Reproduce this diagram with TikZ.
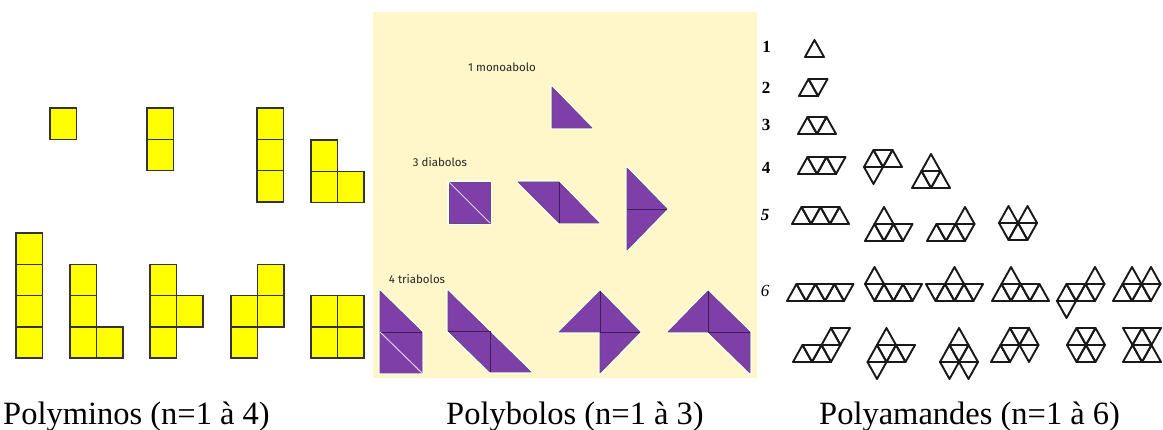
\documentclass[tikz,border=0pt]{standalone}
\usepackage{fontspec}
\setmainfont{Liberation Serif}
\newfontfamily\handfont{Fira Sans}
\definecolor{cream}{HTML}{FFF6C9}
\definecolor{bolo}{HTML}{7E3FA9}
\definecolor{bolodark}{HTML}{3E1F55}
\definecolor{ominoY}{HTML}{FFFF00}
\tikzset{
  omino/.style={fill=ominoY, draw=black!80, line width=1.4pt, line join=miter},
  amond/.style={draw=black!90, line width=1.9pt, line join=round, line cap=round},
  bolohalo/.style={draw=white, line width=3.5pt, line join=round, opacity=0.85},
  bolopiece/.style={fill=bolo, draw=bolodark!80, line width=0.7pt, line join=round},
  bolointer/.style={draw=bolodark, line width=0.8pt},
  bolodiag/.style={draw=white!75!bolo, line width=1pt},
  caption/.style={font=\fontsize{32.5}{38}\selectfont, inner sep=0pt, anchor=base west},
  bololabel/.style={font=\handfont\fontsize{11.5}{13}\selectfont, text=black!85, inner sep=0pt},
  amnum/.style={font=\fontsize{17}{19}\selectfont\bfseries, inner sep=0pt}
}
\newcommand\ycell[2]{\draw[omino] (#1,#2) rectangle ++(26.5,31.3);}
\newcommand\tup[2]{\draw[amond] (#1,#2) -- ++(19,0) -- ++(-9.5,-17) -- cycle;}
\newcommand\tdn[2]{\draw[amond] (#1,#2) -- ++(19,0) -- ++(-9.5,17) -- cycle;}
\begin{document}
\begin{tikzpicture}[x=1pt,y=-1pt]
\useasboundingbox (0,0) rectangle (1163,430);
\fill[white] (0,0) rectangle (1163,430);

% ---------------- Polyominos ----------------
\ycell{50}{108}
\ycell{147}{108}\ycell{147}{139.3}
\ycell{257}{108}\ycell{257}{139.3}\ycell{257}{170.6}
\ycell{311}{140}\ycell{311}{171.3}\ycell{337.5}{171.3}
\ycell{16}{233}\ycell{16}{264.3}\ycell{16}{295.6}\ycell{16}{326.9}
\ycell{70}{264.3}\ycell{70}{295.6}\ycell{70}{326.9}\ycell{96.5}{326.9}
\ycell{150}{264.3}\ycell{150}{295.6}\ycell{150}{326.9}\ycell{176.5}{295.6}
\ycell{231}{295.6}\ycell{231}{326.9}\ycell{257.5}{264.3}\ycell{257.5}{295.6}
\ycell{311}{295.6}\ycell{311}{326.9}\ycell{337.5}{295.6}\ycell{337.5}{326.9}

% ---------------- Polybolos ----------------
\fill[cream] (373,12) rectangle (757,378);
\node[bololabel] (lmono) at (502,67) {1 monoabolo};
\node[bololabel] (ldia) at (440,162) {3 diabolos};
\node[bololabel] (ltri) at (417,279) {4 triabolos};
\draw[bolohalo] (552,87) -- (552,128) -- (592,128) -- cycle;
\draw[bolopiece] (552,87) -- (552,128) -- (592,128) -- cycle;
\draw[bolohalo] (449,182) rectangle (490,223);
\draw[bolopiece] (449,182) rectangle (490,223);
\draw[bolodiag] (449,182) -- (490,223);
\draw[bolohalo] (518,182) -- (559,182) -- (599,223) -- (559,223) -- cycle;
\draw[bolopiece] (518,182) -- (559,182) -- (599,223) -- (559,223) -- cycle;
\draw[bolointer] (559,182) -- (559,223);
\draw[bolohalo] (627,168) -- (667,209) -- (627,250) -- cycle;
\draw[bolopiece] (627,168) -- (667,209) -- (627,250) -- cycle;
\draw[bolointer] (627,209) -- (667,209);
\draw[bolohalo] (380,291) -- (422,332) -- (422,373) -- (380,373) -- cycle;
\draw[bolopiece] (380,291) -- (422,332) -- (422,373) -- (380,373) -- cycle;
\draw[bolointer] (380,332) -- (422,332);
\draw[bolodiag] (380,332) -- (422,373);
\draw[bolohalo] (448,291) -- (531,372) -- (490,372) -- (448,331) -- cycle;
\draw[bolopiece] (448,291) -- (531,372) -- (490,372) -- (448,331) -- cycle;
\draw[bolointer] (448,331) -- (490,331) -- (490,372);
\draw[bolohalo] (559,332) -- (600,291) -- (640,332) -- (600,373) -- (600,332) -- cycle;
\draw[bolopiece] (559,332) -- (600,291) -- (640,332) -- (600,373) -- (600,332) -- cycle;
\draw[bolointer] (600,291) -- (600,332) -- (640,332);
\draw[bolohalo] (668,332) -- (708,291) -- (750,332) -- (750,373) -- (708,332) -- cycle;
\draw[bolopiece] (668,332) -- (708,291) -- (750,332) -- (750,373) -- (708,332) -- cycle;
\draw[bolointer] (708,291) -- (708,332) -- (750,332);

% ---------------- Polyamandes ----------------
\node[amnum] (n1) at (766.5,47) {1};
\node[amnum] (n2) at (766,88) {2};
\node[amnum] (n3) at (766,125) {3};
\node[amnum] (n4) at (766,168) {4};
\node[amnum, font=\fontsize{17}{19}\selectfont\bfseries\itshape] (n5) at (765,215.5) {5};
\node[amnum, font=\fontsize{17}{19}\selectfont\itshape] (n6) at (765,291) {6};
\tup{805}{57}
\tup{799}{96}\tdn{808.5}{79}
\tup{798}{134}\tdn{807.5}{117}\tup{817}{134}
\tup{798}{174}\tdn{807.5}{157}\tup{817}{174}\tdn{826.5}{157}
\tup{864}{167}\tdn{873.5}{150}\tup{883}{167}\tdn{864}{167}
\tup{912}{188}\tdn{921.5}{171}\tup{931}{188}\tup{921.5}{171}
\tup{792}{224}\tdn{801.5}{207}\tup{811}{224}\tdn{820.5}{207}\tup{830}{224}
\tup{874.5}{224}\tup{865}{241}\tdn{874.5}{224}\tup{884}{241}\tdn{893.5}{224}
\tup{927}{241}\tdn{936.5}{224}\tup{946}{241}\tdn{955.5}{224}\tup{955.5}{224}
\tup{999}{223}\tup{1018}{223}\tdn{999}{223}\tup{1008.5}{240}\tdn{1018}{223}
\tup{787}{301}\tdn{796.5}{284}\tup{806}{301}\tdn{815.5}{284}\tup{825}{301}\tdn{834.5}{284}
\tdn{865}{284}\tup{874.5}{301}\tdn{884}{284}\tup{893.5}{301}\tdn{903}{284}\tup{865}{284}
\tdn{926}{284}\tup{935.5}{301}\tdn{945}{284}\tup{954.5}{301}\tdn{964}{284}\tup{945}{284}
\tup{992}{301}\tdn{1001.5}{284}\tup{1011}{301}\tdn{1020.5}{284}\tup{1030}{301}\tup{1001.5}{284}
\tup{1057}{301}\tdn{1066.5}{284}\tup{1076}{301}\tdn{1085.5}{284}\tup{1085.5}{284}\tdn{1057}{301}
\tup{1113}{301}\tdn{1122.5}{284}\tup{1132}{301}\tdn{1141.5}{284}\tup{1122.5}{284}\tup{1141.5}{284}
\tup{793}{362}\tdn{802.5}{345}\tup{812}{362}\tdn{821.5}{345}\tup{821.5}{345}\tdn{831}{328}
\tup{877}{345}\tup{867.5}{362}\tdn{877}{345}\tup{886.5}{362}\tdn{896}{345}\tdn{867.5}{362}
\tup{949.5}{345}\tup{940}{362}\tdn{949.5}{345}\tup{959}{362}\tdn{940}{362}\tdn{959}{362}
\tup{1000.5}{345}\tdn{1010}{328}\tup{1019.5}{345}\tup{991}{362}\tdn{1000.5}{345}\tdn{1019.5}{345}
\tup{1067}{345}\tdn{1076.5}{328}\tup{1086}{345}\tdn{1067}{345}\tup{1076.5}{362}\tdn{1086}{345}
\tdn{1123}{328}\tup{1132.5}{345}\tdn{1142}{328}\tup{1123}{362}\tdn{1132.5}{345}\tup{1142}{362}

% ---------------- Captions ----------------
\node[caption] (cap1) at (3,425) {Polyminos (n=1 à 4)};
\node[caption] (cap2) at (446,425) {Polybolos (n=1 à 3)};
\node[caption] (cap3) at (819,425) {Polyamandes (n=1 à 6)};
\end{tikzpicture}
\end{document}
